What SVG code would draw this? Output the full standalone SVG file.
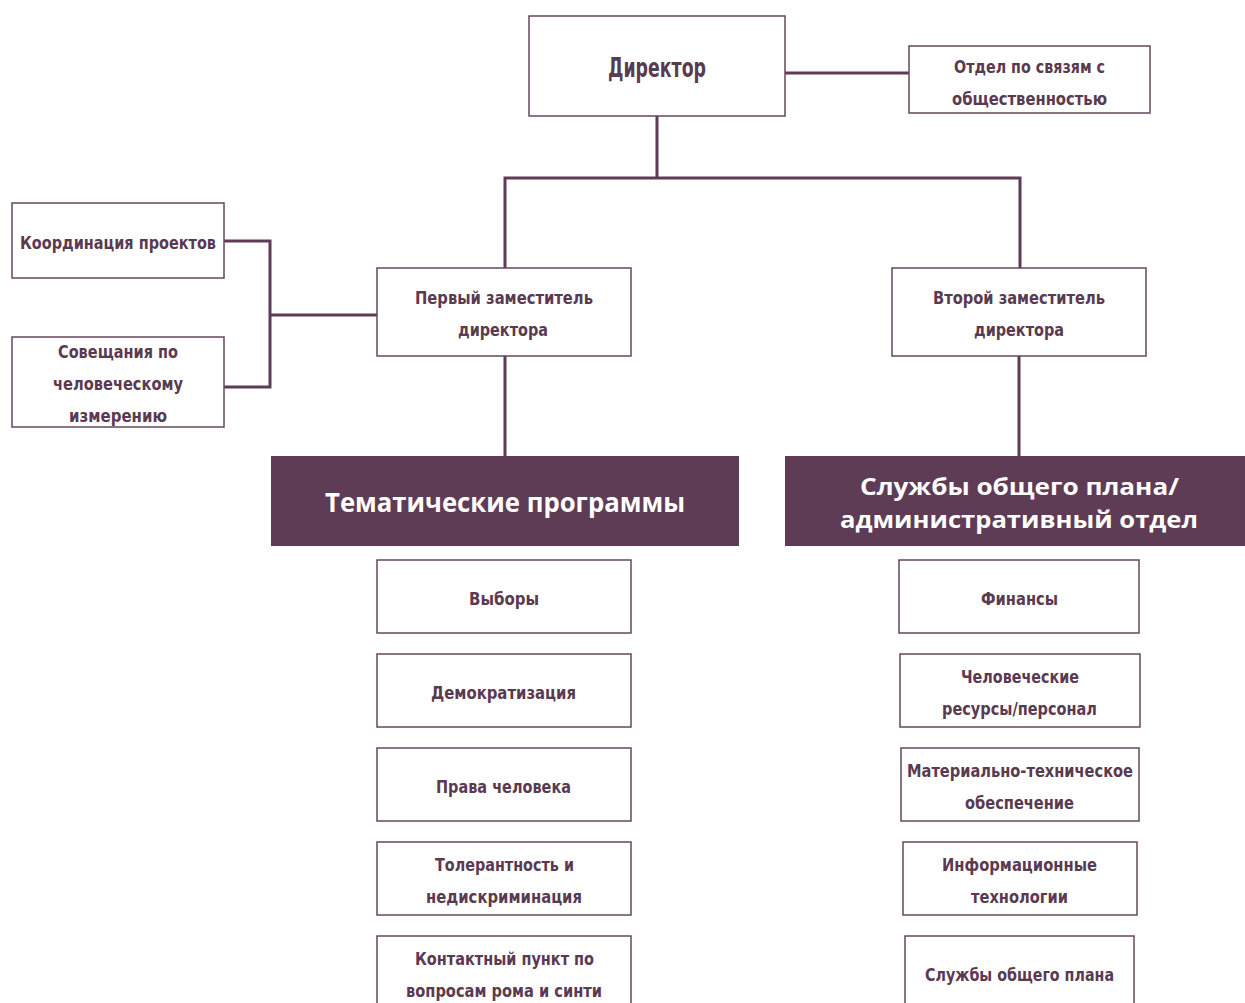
<svg xmlns="http://www.w3.org/2000/svg" width="1245" height="1003" viewBox="0 0 1245 1003">
<style>
.box{fill:#ffffff;stroke:#66475d;stroke-width:1.5}
.hdr{fill:#5f3c55}
.t{font-family:"DejaVu Sans Condensed","DejaVu Sans",sans-serif;font-weight:bold;font-size:18.5px;fill:#5a3a50;text-anchor:middle}
.big{font-size:26px}
.h{font-family:"Open Sans","DejaVu Sans",sans-serif;font-weight:bold;font-size:27px;fill:#ffffff;text-anchor:middle}
.h2{font-size:24px}
.c{fill:none;stroke:#5f3c55;stroke-width:3}
</style>
<g id="connectors">
<path class="c" d="M785 73H909"/>
<path class="c" d="M657 116V178M505 178H1021M505 176.5V268M1020 176.5V268"/>
<path class="c" d="M224 241H270V387H224M270 315H377"/>
<path class="c" d="M505 356V456M1019 356V456"/>
</g>
<g id="director"><rect class="box" x="529" y="16" width="256" height="100"/><text class="t big" x="657" y="77" textLength="98" lengthAdjust="spacingAndGlyphs">Директор</text></g>
<g id="pr"><rect class="box" x="909" y="46" width="241" height="67"/><text class="t" x="1029.5" y="73" textLength="151" lengthAdjust="spacingAndGlyphs">Отдел по связям с</text><text class="t" x="1029.5" y="105" textLength="155" lengthAdjust="spacingAndGlyphs">общественностью</text></g>
<g id="coord"><rect class="box" x="12" y="203" width="212" height="75"/><text class="t" x="118" y="249" textLength="196" lengthAdjust="spacingAndGlyphs">Координация проектов</text></g>
<g id="meetings"><rect class="box" x="12" y="337" width="212" height="90"/><text class="t" x="118" y="358" textLength="120" lengthAdjust="spacingAndGlyphs">Совещания по</text><text class="t" x="118" y="390" textLength="130" lengthAdjust="spacingAndGlyphs">человеческому</text><text class="t" x="118" y="422" textLength="98" lengthAdjust="spacingAndGlyphs">измерению</text></g>
<g id="dep1"><rect class="box" x="377" y="268" width="254" height="88"/><text class="t" x="504" y="304" textLength="178" lengthAdjust="spacingAndGlyphs">Первый заместитель</text><text class="t" x="503" y="336" textLength="90" lengthAdjust="spacingAndGlyphs">директора</text></g>
<g id="dep2"><rect class="box" x="892" y="268" width="254" height="88"/><text class="t" x="1019" y="304" textLength="172" lengthAdjust="spacingAndGlyphs">Второй заместитель</text><text class="t" x="1019" y="336" textLength="90" lengthAdjust="spacingAndGlyphs">директора</text></g>
<g id="thematic"><rect class="hdr" x="271" y="456" width="468" height="90"/><text class="h" x="505" y="512" textLength="360" lengthAdjust="spacingAndGlyphs">Тематические программы</text></g>
<g id="general"><rect class="hdr" x="785" y="456" width="460" height="90"/><text class="h h2" x="1019.5" y="495" textLength="319" lengthAdjust="spacingAndGlyphs">Службы общего плана/</text><text class="h h2" x="1019" y="528" textLength="358" lengthAdjust="spacingAndGlyphs">административный отдел</text></g>
<g id="elections"><rect class="box" x="377" y="560" width="254" height="73"/><text class="t" x="504" y="605" textLength="70" lengthAdjust="spacingAndGlyphs">Выборы</text></g>
<g id="democ"><rect class="box" x="377" y="654" width="254" height="73"/><text class="t" x="503.5" y="699" textLength="145" lengthAdjust="spacingAndGlyphs">Демократизация</text></g>
<g id="hr-rights"><rect class="box" x="377" y="748" width="254" height="73"/><text class="t" x="503.5" y="793" textLength="135" lengthAdjust="spacingAndGlyphs">Права человека</text></g>
<g id="tolerance"><rect class="box" x="377" y="842" width="254" height="73"/><text class="t" x="504.5" y="871" textLength="139" lengthAdjust="spacingAndGlyphs">Толерантность и</text><text class="t" x="504" y="903" textLength="156" lengthAdjust="spacingAndGlyphs">недискриминация</text></g>
<g id="roma"><rect class="box" x="377" y="936" width="254" height="80"/><text class="t" x="504.5" y="965" textLength="179" lengthAdjust="spacingAndGlyphs">Контактный пункт по</text><text class="t" x="504" y="997" textLength="196" lengthAdjust="spacingAndGlyphs">вопросам рома и синти</text></g>
<g id="finance"><rect class="box" x="899" y="560" width="240" height="73"/><text class="t" x="1019.5" y="605" textLength="77" lengthAdjust="spacingAndGlyphs">Финансы</text></g>
<g id="personnel"><rect class="box" x="900" y="654" width="240" height="73"/><text class="t" x="1020" y="683" textLength="118" lengthAdjust="spacingAndGlyphs">Человеческие</text><text class="t" x="1019.5" y="715" textLength="155" lengthAdjust="spacingAndGlyphs">ресурсы/персонал</text></g>
<g id="logistics"><rect class="box" x="901" y="748" width="238" height="73"/><text class="t" x="1020" y="777" textLength="226" lengthAdjust="spacingAndGlyphs">Материально-техническое</text><text class="t" x="1019.5" y="809" textLength="109" lengthAdjust="spacingAndGlyphs">обеспечение</text></g>
<g id="it"><rect class="box" x="903" y="842" width="234" height="73"/><text class="t" x="1019.5" y="871" textLength="155" lengthAdjust="spacingAndGlyphs">Информационные</text><text class="t" x="1019.5" y="903" textLength="97" lengthAdjust="spacingAndGlyphs">технологии</text></g>
<g id="services"><rect class="box" x="905" y="936" width="229" height="80"/><text class="t" x="1019.5" y="981" textLength="189" lengthAdjust="spacingAndGlyphs">Службы общего плана</text></g>
</svg>
